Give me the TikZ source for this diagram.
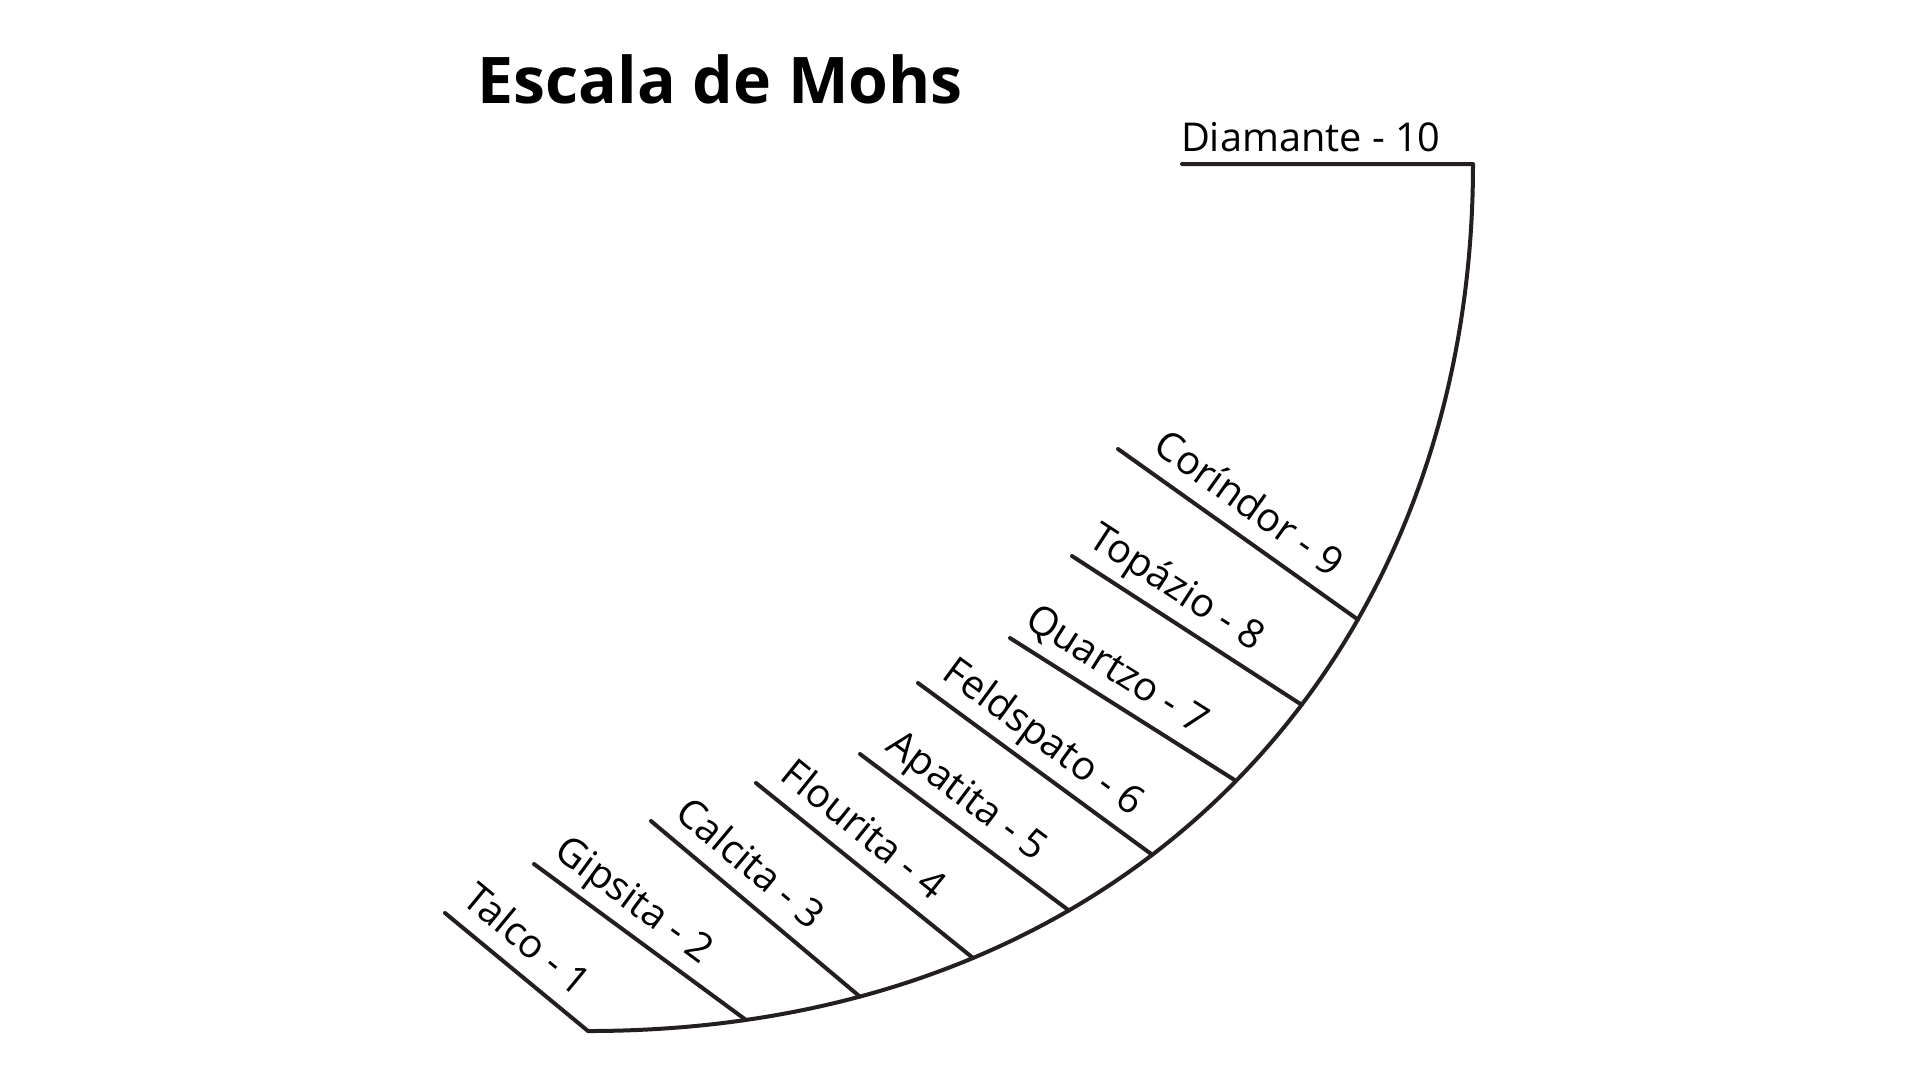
\documentclass[tikz,border=0pt]{standalone}
\usepackage{fontspec}
\setmainfont{Open Sans}
\usepackage{tikz}
\usetikzlibrary{calc}
\definecolor{ink}{RGB}{35,31,32}

\begin{document}
\begin{tikzpicture}[
x=0.1mm, y=-0.1mm,
Ln/.style={draw=ink, line width=0.4mm, line cap=round, line join=round},
Lab/.style={sloped, anchor=south west, inner xsep=0pt, inner ysep=1.6mm, text depth=0pt,
font=\fontsize{11.3}{13}\selectfont},
]
	\useasboundingbox (0,0) rectangle (1920,1080);

	\node[
	anchor=base west,
	inner sep=0pt,
	font=\fontsize{18.3}{22}\selectfont\bfseries,
	] (Title) 
	at (477,103)
	{Escala de Mohs};

	% upper ends of the ticks
	\coordinate (U1) at (445,913);
	\coordinate (U2) at (534,864);
	\coordinate (U3) at (651,821);
	\coordinate (U4) at (756,783);
	\coordinate (U5) at (860,754);
	\coordinate (U6) at (918,683);
	\coordinate (U7) at (1010,638);
	\coordinate (U8) at (1072,556);
	\coordinate (U9) at (1118,449);
	\coordinate (D0) at (1182,164);

	\draw[Ln] (D0) -- (1473,164) coordinate (D1)
	node[Lab, pos=0, inner ysep=1.1mm, xshift=-0.3mm] (Diamante) {Diamante - 10}
	.. controls (1473,653) and (1136,1031) .. (588,1031) coordinate (E1)
	coordinate[pos=0.345] (E9)
	coordinate[pos=0.423] (E8)
	coordinate[pos=0.5] (E7)
	coordinate[pos=0.585] (E6)
	coordinate[pos=0.66] (E5)
	coordinate[pos=0.738] (E4)
	coordinate[pos=0.822] (E3)
	coordinate[pos=0.9] (E2);

	\draw[Ln] (U1) -- (E1) node[Lab, pos=0.02] (Talco) {Talco - 1};
	\draw[Ln] (U2) -- (E2) node[Lab, pos=0.03] (Gipsita) {Gipsita - 2};
	\draw[Ln] (U3) -- (E3) node[Lab, pos=0.045] (Calcita) {Calcita - 3};
	\draw[Ln] (U4) -- (E4) node[Lab, pos=0.045] (Flourita) {Flourita - 4};
	\draw[Ln] (U5) -- (E5) node[Lab, pos=0.058] (Apatita) {Apatita - 5};
	\draw[Ln] (U6) -- (E6) node[Lab, pos=0.045] (Feldspato) {Feldspato - 6};
	\draw[Ln] (U7) -- (E7) node[Lab, pos=0.008] (Quartzo) {Quartzo - 7};
	\draw[Ln] (U8) -- (E8) node[Lab, pos=0.015] (Topazio) {Topázio - 8};
	\draw[Ln] (U9) -- (E9) node[Lab, pos=0.09] (Corindor) {Coríndor - 9};
\end{tikzpicture}
\end{document}
